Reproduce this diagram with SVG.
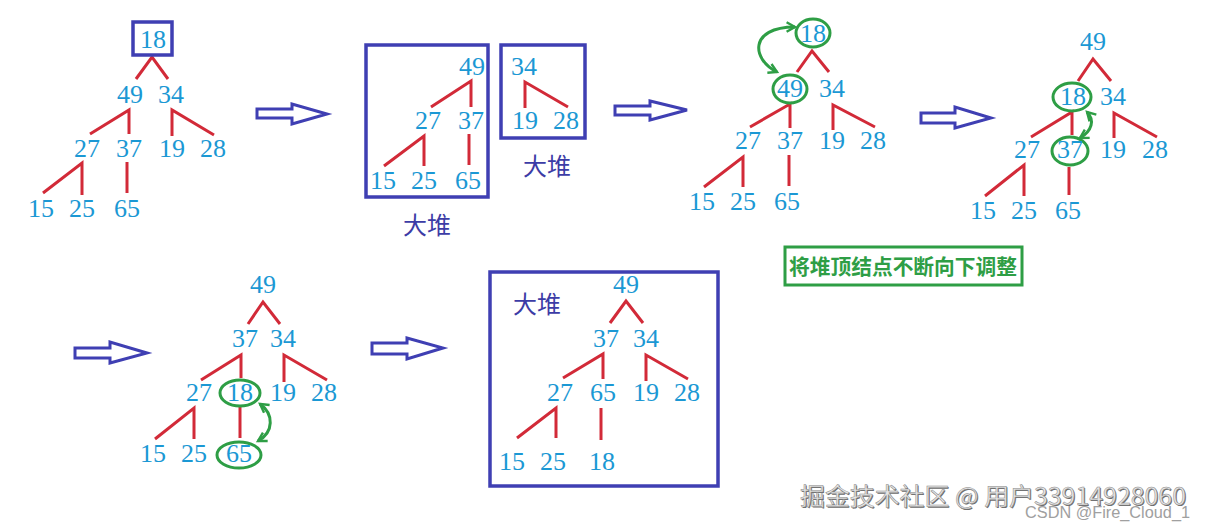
<svg xmlns="http://www.w3.org/2000/svg" width="1206" height="529" viewBox="0 0 1206 529">
<style>
.n{font-family:"Liberation Serif","Times New Roman",serif;font-size:26px;fill:#1b98d4;text-anchor:middle}
.e{stroke:#d22a38;stroke-width:3;fill:none;stroke-linecap:butt}
.bx{fill:none;stroke:#3f3fb3;stroke-width:3.5}
.ar{fill:#fff;stroke:#3f3fb3;stroke-width:3;stroke-linejoin:miter}
.g{fill:none;stroke:#2e9e45;stroke-width:3}
.ga{fill:none;stroke:#2e9e45;stroke-width:3;marker-start:url(#gh);marker-end:url(#gh)}
.dd{font-family:"Noto Sans CJK SC","Noto Sans CJK JP",serif;font-size:24px;fill:#3c3ca6;text-anchor:middle}
</style>
<defs>
<marker id="gh" viewBox="0 0 10 10" refX="8" refY="5" markerWidth="4" markerHeight="4" orient="auto-start-reverse" markerUnits="strokeWidth">
<path d="M1,1 L8,5 L1,9" fill="none" stroke="#2e9e45" stroke-width="2"/>
</marker>
</defs>
<rect width="1206" height="529" fill="#fff"/>

<g id="connectors">
<!-- panel 1 -->
<path class="e" d="M136,79 L152,57 L168,79"/>
<path class="e" d="M90,134 L129,110 L129,134"/>
<path class="e" d="M172,136 L172,110 L214,135"/>
<path class="e" d="M43,193 L82,163 L82,195"/>
<path class="e" d="M127,162 L127,193"/>
<!-- panel 2 -->
<path class="e" d="M431,107 L471,81 L471,107"/>
<path class="e" d="M384,166 L424,136 L424,166"/>
<path class="e" d="M469,134 L469,165"/>
<path class="e" d="M525,108 L525,82 L568,107"/>
<!-- panel 3 -->
<path class="e" d="M797,72 L812,51 L829,72"/>
<path class="e" d="M750,127 L790,104 L790,128"/>
<path class="e" d="M833,130 L833,105 L875,127"/>
<path class="e" d="M704,187 L743,157 L743,187"/>
<path class="e" d="M789,155 L789,186"/>
<path class="ga" d="M777,72 C752,60 748,27 795,27"/>
<!-- panel 4 -->
<path class="e" d="M1078,81 L1093,59 L1111,81"/>
<path class="e" d="M1031,137 L1072,112 L1072,135"/>
<path class="e" d="M1114,138 L1114,113 L1157,137"/>
<path class="e" d="M985,196 L1024,165 L1024,196"/>
<path class="e" d="M1069,167 L1069,195"/>
<path class="ga" d="M1087,112 C1095,120 1092,131 1080,138"/>
<!-- panel 5 -->
<path class="e" d="M248,324 L263,302 L280,324"/>
<path class="e" d="M201,380 L241,355 L241,378"/>
<path class="e" d="M284,382 L284,355 L327,380"/>
<path class="e" d="M155,439 L194,408 L194,439"/>
<path class="e" d="M240,407 L240,438"/>
<path class="ga" d="M260,404 C274,414 274,432 258,441"/>
<!-- panel 6 -->
<path class="e" d="M610,323 L626,301 L643,323"/>
<path class="e" d="M563,378 L603,354 L603,379"/>
<path class="e" d="M646,381 L646,355 L688,379"/>
<path class="e" d="M517,438 L556,408 L556,438"/>
<path class="e" d="M601,408 L601,440"/>
<!-- step arrows -->
<path class="ar" d="M257,109 L292,109 L292,104 L327,114 L292,124 L292,118 L257,118 Z"/>
<path class="ar" d="M615,106 L650,106 L650,101 L687,110 L650,120 L650,115 L615,115 Z"/>
<path class="ar" d="M921,113 L955,113 L955,107 L991,118 L955,128 L955,123 L921,123 Z"/>
<path class="ar" d="M75,348 L110,348 L110,342 L147,353 L110,363 L110,358 L75,358 Z"/>
<path class="ar" d="M372,343 L407,343 L407,338 L443,348 L407,359 L407,354 L372,354 Z"/>
</g>

<g id="panel1">
<g id="p1-18"><rect class="bx" x="133" y="22" width="39" height="33"/><text class="n" x="153" y="48">18</text></g>
<g id="p1-49"><text class="n" x="130" y="103">49</text></g>
<g id="p1-34"><text class="n" x="171" y="103">34</text></g>
<g id="p1-27"><text class="n" x="87" y="157">27</text></g>
<g id="p1-37"><text class="n" x="129" y="157">37</text></g>
<g id="p1-19"><text class="n" x="172" y="157">19</text></g>
<g id="p1-28"><text class="n" x="213" y="157">28</text></g>
<g id="p1-15"><text class="n" x="41" y="217">15</text></g>
<g id="p1-25"><text class="n" x="82" y="217">25</text></g>
<g id="p1-65"><text class="n" x="127" y="217">65</text></g>
</g>

<g id="panel2">
<rect class="bx" x="366" y="45" width="122" height="152"/>
<rect class="bx" x="501" y="45" width="84" height="93"/>
<g id="p2-49"><text class="n" x="472" y="75">49</text></g>
<g id="p2-27"><text class="n" x="428" y="129">27</text></g>
<g id="p2-37"><text class="n" x="471" y="129">37</text></g>
<g id="p2-15"><text class="n" x="383" y="189">15</text></g>
<g id="p2-25"><text class="n" x="424" y="189">25</text></g>
<g id="p2-65"><text class="n" x="468" y="189">65</text></g>
<g id="p2-34"><text class="n" x="524" y="75">34</text></g>
<g id="p2-19"><text class="n" x="525" y="129">19</text></g>
<g id="p2-28"><text class="n" x="566" y="129">28</text></g>
<text class="dd" x="427" y="234">大堆</text>
<text class="dd" x="547" y="175">大堆</text>
</g>

<g id="panel3">
<g id="p3-18"><ellipse class="g" cx="813" cy="33" rx="17" ry="14"/><text class="n" x="813" y="42">18</text></g>
<g id="p3-49"><ellipse class="g" cx="790" cy="89" rx="17" ry="14"/><text class="n" x="790" y="97">49</text></g>
<g id="p3-34"><text class="n" x="832" y="97">34</text></g>
<g id="p3-27"><text class="n" x="748" y="149">27</text></g>
<g id="p3-37"><text class="n" x="790" y="149">37</text></g>
<g id="p3-19"><text class="n" x="832" y="149">19</text></g>
<g id="p3-28"><text class="n" x="873" y="149">28</text></g>
<g id="p3-15"><text class="n" x="702" y="210">15</text></g>
<g id="p3-25"><text class="n" x="743" y="210">25</text></g>
<g id="p3-65"><text class="n" x="787" y="210">65</text></g>
</g>

<g id="note">
<rect x="785" y="247" width="237" height="38" fill="none" stroke="#2e9e45" stroke-width="3"/>
<text x="903" y="274" font-family="Noto Sans CJK SC,Noto Sans CJK JP,sans-serif" font-size="21" font-weight="bold" fill="#2e9e45" text-anchor="middle" textLength="228" lengthAdjust="spacingAndGlyphs">将堆顶结点不断向下调整</text>
</g>

<g id="panel4">
<g id="p4-49"><text class="n" x="1093" y="50">49</text></g>
<g id="p4-18"><ellipse class="g" cx="1072" cy="97" rx="19" ry="14"/><text class="n" x="1073" y="105">18</text></g>
<g id="p4-34"><text class="n" x="1113" y="105">34</text></g>
<g id="p4-27"><text class="n" x="1027" y="158">27</text></g>
<g id="p4-37"><ellipse class="g" cx="1070" cy="151" rx="18" ry="14"/><text class="n" x="1070" y="158">37</text></g>
<g id="p4-19"><text class="n" x="1113" y="158">19</text></g>
<g id="p4-28"><text class="n" x="1155" y="158">28</text></g>
<g id="p4-15"><text class="n" x="983" y="219">15</text></g>
<g id="p4-25"><text class="n" x="1024" y="219">25</text></g>
<g id="p4-65"><text class="n" x="1068" y="219">65</text></g>
</g>

<g id="panel5">
<g id="p5-49"><text class="n" x="263" y="293">49</text></g>
<g id="p5-37"><text class="n" x="245" y="347">37</text></g>
<g id="p5-34"><text class="n" x="283" y="347">34</text></g>
<g id="p5-27"><text class="n" x="199" y="401">27</text></g>
<g id="p5-18"><ellipse class="g" cx="240" cy="393" rx="20" ry="13"/><text class="n" x="240" y="401">18</text></g>
<g id="p5-19"><text class="n" x="283" y="401">19</text></g>
<g id="p5-28"><text class="n" x="324" y="401">28</text></g>
<g id="p5-15"><text class="n" x="153" y="462">15</text></g>
<g id="p5-25"><text class="n" x="194" y="462">25</text></g>
<g id="p5-65"><ellipse class="g" cx="239" cy="455" rx="22" ry="13"/><text class="n" x="239" y="462">65</text></g>
</g>

<g id="panel6">
<rect class="bx" x="490" y="272" width="228" height="214"/>
<text class="dd" x="537" y="313">大堆</text>
<g id="p6-49"><text class="n" x="626" y="293">49</text></g>
<g id="p6-37"><text class="n" x="606" y="347">37</text></g>
<g id="p6-34"><text class="n" x="646" y="347">34</text></g>
<g id="p6-27"><text class="n" x="560" y="401">27</text></g>
<g id="p6-65"><text class="n" x="603" y="401">65</text></g>
<g id="p6-19"><text class="n" x="646" y="401">19</text></g>
<g id="p6-28"><text class="n" x="687" y="401">28</text></g>
<g id="p6-15"><text class="n" x="512" y="470">15</text></g>
<g id="p6-25"><text class="n" x="553" y="470">25</text></g>
<g id="p6-18"><text class="n" x="602" y="470">18</text></g>
</g>

<g id="watermark">
<text x="801" y="506" font-family="Noto Sans CJK SC,Noto Sans CJK JP,sans-serif" font-size="24" fill="#6a6a6a" textLength="386" lengthAdjust="spacingAndGlyphs">掘金技术社区 @ 用户33914928060</text>
<text x="800" y="505" font-family="Noto Sans CJK SC,Noto Sans CJK JP,sans-serif" font-size="24" fill="#e6e6e6" stroke="#8a8a8a" stroke-width="0.5" textLength="386" lengthAdjust="spacingAndGlyphs">掘金技术社区 @ 用户33914928060</text>
<text x="1025" y="518" font-family="Liberation Sans,Arial,sans-serif" font-size="16" fill="#a0a0a0" textLength="165" lengthAdjust="spacingAndGlyphs">CSDN @Fire_Cloud_1</text>
</g>
</svg>
